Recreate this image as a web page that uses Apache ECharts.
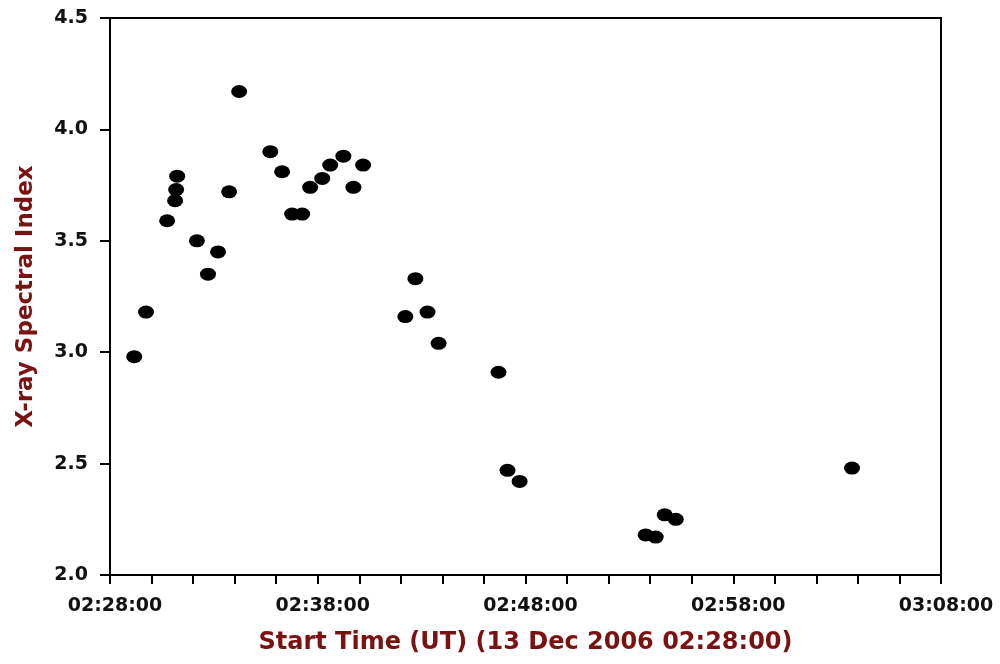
<!DOCTYPE html>
<html>
<head>
<meta charset="utf-8">
<script src="https://cdn.jsdelivr.net/npm/echarts@6/dist/echarts.min.js"></script>
<style>
  html, body { margin: 0; padding: 0; background: #fff; }
  #chart { width: 1000px; height: 664px; }
</style>
</head>
<body>
<div id="chart"></div>
<script>
// start times (UT) of each spectrum
const startTimes = [
  '02:29:10', '02:29:44', '02:30:45', '02:31:08', '02:31:11', '02:31:14',
  '02:32:11', '02:32:43', '02:33:12', '02:33:44', '02:34:13', '02:35:43',
  '02:36:17', '02:36:46', '02:37:15', '02:37:38', '02:38:13', '02:38:36',
  '02:39:14', '02:39:43', '02:40:11', '02:42:13', '02:42:42', '02:43:17',
  '02:43:49', '02:46:42', '02:47:08', '02:47:43', '02:53:47', '02:54:16',
  '02:54:42', '02:55:14', '03:03:43'
]
const spectralIndex = [
  2.98, 3.18, 3.59, 3.68, 3.73, 3.79,
  3.50, 3.35, 3.45, 3.72, 4.17, 3.90,
  3.81, 3.62, 3.62, 3.74, 3.78, 3.84,
  3.88, 3.74, 3.84, 3.16, 3.33, 3.18,
  3.04, 2.91, 2.47, 2.42, 2.18, 2.17,
  2.27, 2.25, 2.48
]
const refTime = '02:28:00'

function toSec(s) {
  const p = s.split(':').map(Number)
  return p[0] * 3600 + p[1] * 60 + p[2]
}
function fmt(sec) {
  const h = Math.floor(sec / 3600), m = Math.floor(sec % 3600 / 60), s = sec % 60
  return [h, m, s].map(v => String(v).padStart(2, '0')).join(':')
}

const t0 = toSec(refTime)
// minutes since reference time
const points = startTimes.map((t, i) => [(toSec(t) - t0) / 60, spectralIndex[i]])

const chart = echarts.init(document.getElementById('chart'))
const darkRed = '#7a1212'
const font = 'DejaVu Sans'
const labelFont = { color: '#111', fontSize: 19, fontWeight: 'bold', fontFamily: font }

chart.setOption({
  animation: false,
  grid: {
    left: 110, right: 59, top: 18, bottom: 89,
    outerBoundsMode: 'none',
    show: true, borderColor: '#000', borderWidth: 2, backgroundColor: 'transparent'
  },
  xAxis: {
    type: 'value',
    min: 0, max: 40, interval: 10,
    name: 'Start Time (UT) (13 Dec 2006 02:28:00)',
    nameLocation: 'middle',
    nameGap: 56,
    nameTextStyle: { color: darkRed, fontSize: 24, fontWeight: 'bold', fontFamily: font },
    axisLine: { lineStyle: { color: '#000', width: 2 } },
    axisTick: { show: true, length: 9, lineStyle: { color: '#000', width: 2 } },
    minorTick: { show: true, splitNumber: 5, length: 9, lineStyle: { color: '#000', width: 2 } },
    splitLine: { show: false },
    axisLabel: { ...labelFont, margin: 22, padding: [0, 0, 0, 10], formatter: v => fmt(t0 + v * 60) }
  },
  yAxis: {
    type: 'value',
    min: 2.0, max: 4.5, interval: 0.5,
    name: 'X-ray Spectral Index',
    nameLocation: 'middle',
    nameGap: 72,
    nameTextStyle: { color: darkRed, fontSize: 23, fontWeight: 'bold', fontFamily: font },
    axisLine: { lineStyle: { color: '#000', width: 2 } },
    axisTick: { show: true, length: 10, lineStyle: { color: '#000', width: 2 } },
    splitLine: { show: false },
    axisLabel: { ...labelFont, margin: 22, formatter: v => v.toFixed(1) }
  },
  series: [{
    type: 'scatter',
    data: points,
    symbol: 'circle',
    symbolSize: [16, 13],
    itemStyle: { color: '#000', opacity: 1 }
  }]
})
</script>
</body>
</html>
